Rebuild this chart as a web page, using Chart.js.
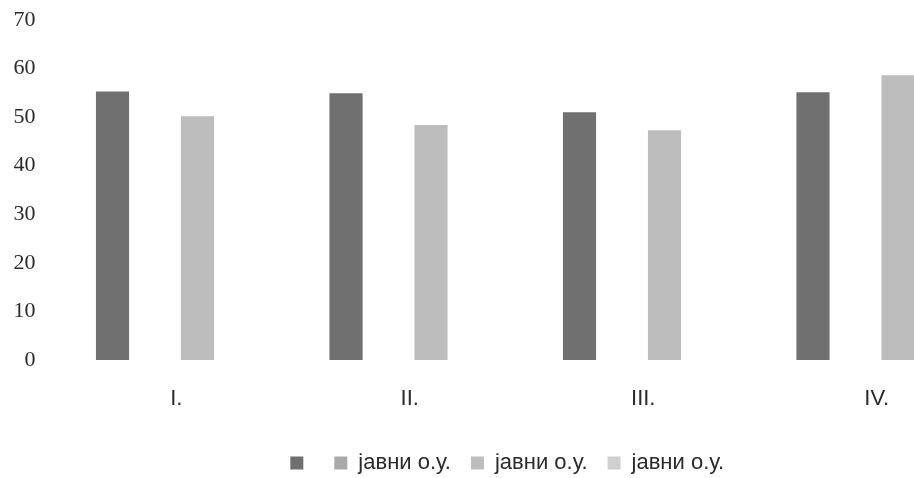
<!DOCTYPE html>
<html>
<head>
<meta charset="utf-8">
<script src="https://cdn.jsdelivr.net/npm/chart.js@4/dist/chart.umd.min.js"></script>
<style>
html,body{margin:0;padding:0;background:#fff;overflow:hidden;}
#wrap{width:914px;height:478px;overflow:hidden;position:relative;}
canvas{display:block;}
</style>
</head>
<body>
<div id="wrap"><canvas id="c" width="1032" height="484"></canvas></div>
<script>
const categories = ["I.", "II.", "III.", "IV."];
const seriesNames = ["", "јавни о.у.", "јавни о.у.", "јавни о.у."];
const series1 = [55.3, 54.9, 51.0, 55.1];
const series2 = [null, null, null, null];
const series3 = [50.2, 48.4, 47.3, 58.6];
const series4 = [null, null, null, null];
const yTicks = [0, 10, 20, 30, 40, 50, 60, 70];

const colors = ["#707070", "#a9a9a9", "#bdbdbd", "#d0d0d0"];
const allSeries = [series1, series2, series3, series4];

const legendShift = {
  id: 'legendShift',
  afterLayout(chart) {
    if (chart.legend) { chart.legend.left += 10.5; chart.legend.right += 10.5; }
  }
};

new Chart(document.getElementById('c'), {
  type: 'bar',
  data: {
    labels: categories,
    datasets: allSeries.map((d, i) => ({
      label: seriesNames[i],
      data: d,
      backgroundColor: colors[i],
      borderWidth: 0,
      barPercentage: 0.78,
      categoryPercentage: 0.728
    }))
  },
  options: {
    responsive: false,
    animation: false,
    layout: { padding: { top: 20, right: 38.5, left: 0, bottom: 0 } },
    plugins: {
      tooltip: { enabled: false },
      legend: {
        position: 'bottom',
        labels: {
          color: '#2a2a2a',
          boxWidth: 13,
          boxHeight: 13,
          padding: 20,
          font: { family: "'Liberation Sans',Arial,sans-serif", size: 22 }
        }
      }
    },
    scales: {
      y: {
        min: 0, max: 70,
        afterBuildTicks: (s) => { s.ticks = yTicks.map(v => ({ value: v })); },
        grid: { display: false },
        border: { display: false },
        ticks: {
          color: '#2a2a2a',
          padding: 16,
          font: { family: "'Liberation Serif','DejaVu Serif',serif", size: 22 }
        },
        afterFit: (s) => { s.width = 59.5; s.paddingTop = 0; s.paddingBottom = 0; }
      },
      x: {
        grid: { display: false },
        border: { display: false },
        ticks: {
          color: '#2a2a2a',
          padding: 18,
          font: { family: "'Liberation Sans Narrow','Liberation Sans',Arial,sans-serif", size: 22 }
        },
        afterFit: (s) => { s.height = 72; s.paddingLeft = 0; s.paddingRight = 0; }
      }
    }
  },
  plugins: [legendShift]
});
</script>
</body>
</html>
